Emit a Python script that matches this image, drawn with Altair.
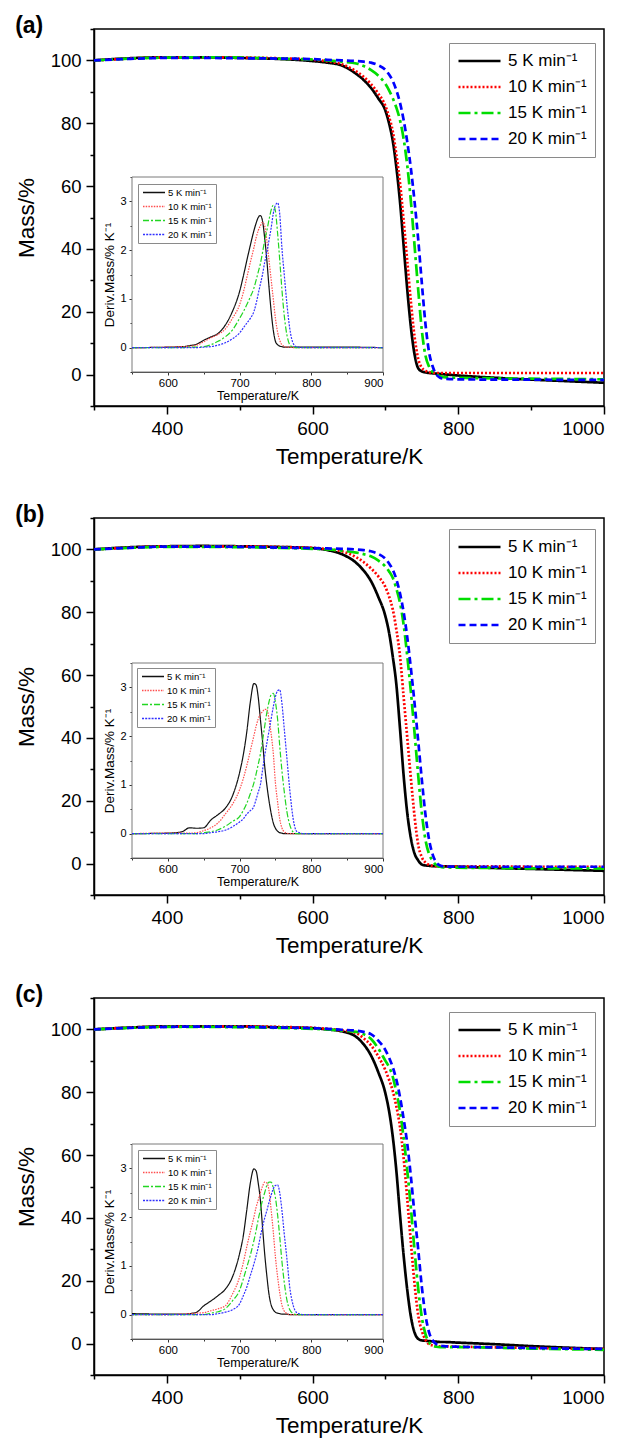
import altair as alt
import pandas as pd

SERIES = ["5 K min\u207b\u00b9", "10 K min\u207b\u00b9", "15 K min\u207b\u00b9", "20 K min\u207b\u00b9"]
COLORS_MAIN = ["#000000", "#ff0000", "#00dd00", "#0000ff"]
COLORS_INSET = ["#111111", "#ff4d4d", "#22d622", "#3030ff"]
DASH_MAIN = [[1, 0], [2, 2], [12, 4, 3, 4], [7, 4]]
DASH_INSET = [[1, 0], [1.5, 1.2], [6, 2, 2, 2], [2, 1.2]]

# main TGA curves (mass %, vs temperature K)
T_MAIN = [300, 350, 400, 450, 500, 550, 600, 620, 640, 660, 670, 680, 690, 700, 705, 710, 715, 720,
          725, 730, 735, 740, 745, 750, 755, 760, 765, 770, 775, 780, 800, 850, 900, 950, 1000]

A_MAIN_5 = [100, 100.7, 101, 101, 100.8, 100.5, 99.8, 99.3, 98.4, 95.7, 93.8, 91.3, 88, 84, 80, 74.5, 66, 55,
            41, 27, 15, 6.4, 2, 1.0, 0.7, 0.5, 0.4, 0.3, 0.2, 0.1, -0.3, -1.0, -1.6, -2.1, -2.6]
A_MAIN_10 = [100, 100.6, 101, 101, 100.9, 100.7, 100.2, 99.7, 98.8, 96.5, 94.8, 92.5, 89.5, 85.5, 82, 77.5, 70, 61,
             49, 36, 23, 12, 5, 2.2, 1.2, 0.8, 0.6, 0.5, 0.5, 0.5, 0.5, 0.5, 0.5, 0.5, 0.5]
A_MAIN_15 = [100, 100.6, 100.9, 101, 100.9, 100.6, 100.3, 100, 99.6, 99, 98.2, 97, 95.2, 92.5, 90.5, 88, 85, 81,
             75, 66.5, 55, 41, 27, 14, 6, 2.5, 0.8, 0, -0.5, -0.8, -1.0, -1.2, -1.3, -1.4, -1.5]
A_MAIN_20 = [100, 100.5, 100.8, 100.8, 100.7, 100.6, 100.4, 100.2, 100, 99.8, 99.6, 99.3, 98.5, 97, 95.5, 93.5, 90.5, 86.5,
             81, 74, 65.5, 55, 43, 29, 16, 7, 2.5, 0, -1.0, -1.3, -1.5, -1.6, -1.6, -1.7, -1.7]

B_MAIN_5 = [100, 100.7, 101, 101.1, 101, 100.8, 100.4, 99.8, 98.5, 95.7, 93.3, 90, 85, 78.7, 73.5, 66, 57, 43,
            28, 16, 8, 3.2, 1, -0.3, -0.6, -0.7, -0.8, -0.8, -0.9, -0.9, -1.0, -1.4, -1.7, -2.0, -2.3]
B_MAIN_10 = [100, 100.6, 101, 101, 101, 100.8, 100.5, 100.1, 99.4, 97.5, 96, 94, 91.5, 88, 85, 81, 74.5, 66,
             53, 40, 27, 15, 6, 2, 0.3, -0.4, -0.7, -0.8, -0.8, -0.9, -0.9, -0.9, -1.0, -1.0, -1.0]
B_MAIN_15 = [100, 100.5, 100.8, 100.8, 100.7, 100.5, 100.2, 100, 99.6, 99, 98.5, 97.8, 96.5, 94.5, 93, 91, 87.5, 83,
             76, 66, 54.5, 41.5, 28, 16, 7.5, 3, 0.8, -0.5, -1.0, -1.2, -1.3, -1.4, -1.5, -1.5, -1.6]
B_MAIN_20 = [100, 100.5, 100.9, 100.9, 100.8, 100.6, 100.4, 100.3, 100.2, 100, 99.8, 99.4, 98.6, 97, 95.5, 93.6, 90.5, 86,
             80, 72, 62, 51, 39, 26.6, 15.5, 7.5, 2.8, 0.3, -0.6, -0.9, -1.0, -1.0, -1.0, -1.0, -1.0]

C_MAIN_5 = [100, 100.6, 101, 101, 101, 100.7, 100.4, 100, 99.4, 97.6, 95.3, 91.8, 86.5, 79.6, 74, 66, 55, 41,
            28, 17, 8.5, 3.5, 1.5, 1, 0.9, 0.8, 0.7, 0.6, 0.5, 0.5, 0.3, -0.2, -0.8, -1.3, -1.7]
C_MAIN_10 = [100, 100.6, 100.9, 101, 101, 100.8, 100.5, 100.2, 99.7, 98.8, 97.2, 95, 91.5, 87, 84, 80.5, 75.5, 69,
             59, 46, 32, 19, 9, 4, 1.2, -0.2, -0.6, -0.8, -0.9, -0.9, -1.0, -1.2, -1.4, -1.6, -1.7]
C_MAIN_15 = [100, 100.5, 100.8, 100.8, 100.7, 100.5, 100.2, 100, 99.6, 99.2, 98.5, 97, 94, 90, 88, 85, 80, 74,
             65.5, 55, 43, 29.6, 17.5, 8.3, 3, 0.3, -0.7, -1.0, -1.1, -1.1, -1.1, -1.3, -1.6, -1.8, -2.0]
C_MAIN_20 = [100, 100.5, 100.8, 100.9, 100.8, 100.6, 100.4, 100.2, 99.9, 99.6, 99.2, 98.5, 96.5, 93.4, 91, 88, 84, 78.5,
             71.5, 63.6, 53, 41, 30, 18, 9, 3.5, 1, -0.2, -0.6, -0.8, -1.0, -1.2, -1.4, -1.6, -1.7]

# inset DTG curves (%/K vs temperature K)
T_INSET = [550, 600, 620, 630, 640, 650, 660, 670, 680, 690,
           700, 705, 710, 715, 720, 723, 726, 729, 732, 735,
           738, 741, 744, 747, 750, 753, 756, 759, 762, 766,
           770, 775, 780, 790, 800, 850, 900]

A_INS_5 = [0, 0.01, 0.02, 0.04, 0.07, 0.15, 0.22, 0.29, 0.46, 0.74,
           1.15, 1.45, 1.78, 2.1, 2.4, 2.55, 2.67, 2.71, 2.6, 2.25,
           1.8, 1.25, 0.75, 0.36, 0.13, 0.06, 0.03, 0.02, 0.01, 0.01,
           0.01, 0.01, 0.01, 0.01, 0.01, 0.01, 0]
A_INS_10 = [0, 0.01, 0.02, 0.03, 0.05, 0.12, 0.2, 0.27, 0.38, 0.6,
            0.88, 1.12, 1.43, 1.75, 2.05, 2.25, 2.4, 2.5, 2.57, 2.5,
            2.2, 1.8, 1.4, 1.0, 0.6, 0.32, 0.15, 0.06, 0.03, 0.01,
            0.01, 0, 0, 0, 0, 0, 0]
A_INS_15 = [0, 0, 0, 0.01, 0.01, 0.02, 0.06, 0.13, 0.22, 0.36,
            0.6, 0.73, 0.88, 1.04, 1.22, 1.38, 1.55, 1.72, 1.95, 2.2,
            2.4, 2.62, 2.82, 2.92, 2.8, 2.35, 1.8, 1.2, 0.7, 0.26,
            0.06, 0.01, 0, 0, 0, 0, 0]
A_INS_20 = [0, 0, 0, 0, 0, 0.01, 0.02, 0.05, 0.1, 0.18,
            0.3, 0.4, 0.5, 0.6, 0.74, 0.9, 1.1, 1.3, 1.5, 1.75,
            1.95, 2.2, 2.45, 2.75, 2.92, 2.97, 2.74, 2.05, 1.55, 0.9,
            0.39, 0.08, 0.01, 0, 0, 0, 0]

B_INS_5 = [0, 0.01, 0.04, 0.12, 0.11, 0.12, 0.28, 0.39, 0.52, 0.77,
           1.25, 1.6, 2.08, 2.7, 3.08, 3.05, 2.8, 2.35, 1.9, 1.39,
           1.0, 0.68, 0.42, 0.22, 0.11, 0.05, 0.02, 0.01, 0, 0,
           0, 0, 0, 0, 0, 0, 0]
B_INS_10 = [0, 0.01, 0.01, 0.01, 0.02, 0.06, 0.12, 0.22, 0.4, 0.6,
            0.9, 1.12, 1.39, 1.7, 2.01, 2.2, 2.35, 2.45, 2.5, 2.55,
            2.55, 2.35, 2.05, 1.65, 1.04, 0.65, 0.3, 0.12, 0.04, 0.01,
            0, 0, 0, 0, 0, 0, 0]
B_INS_15 = [0, 0, 0, 0, 0, 0.02, 0.04, 0.08, 0.15, 0.25,
            0.35, 0.47, 0.62, 0.82, 1.04, 1.22, 1.42, 1.63, 1.9, 2.2,
            2.48, 2.7, 2.85, 2.88, 2.7, 2.35, 1.8, 1.3, 0.9, 0.45,
            0.18, 0.03, 0, 0, 0, 0, 0]
B_INS_20 = [0, 0, 0, 0, 0, 0, 0.02, 0.04, 0.07, 0.14,
            0.24, 0.3, 0.4, 0.47, 0.56, 0.7, 0.85, 1.0, 1.3, 1.6,
            1.85, 2.1, 2.35, 2.6, 2.81, 2.93, 2.95, 2.68, 2.2, 1.55,
            0.9, 0.28, 0.04, 0, 0, 0, 0]

C_INS_5 = [0.02, 0.01, 0.01, 0.02, 0.05, 0.18, 0.28, 0.39, 0.52, 0.77,
           1.25, 1.6, 2.14, 2.7, 2.99, 2.95, 2.7, 2.35, 1.8, 1.25,
           0.8, 0.42, 0.2, 0.1, 0.05, 0.03, 0.02, 0.01, 0.01, 0.01,
           0, 0, 0, 0, 0, 0, 0]
C_INS_10 = [0, 0, 0.01, 0.02, 0.03, 0.04, 0.08, 0.12, 0.18, 0.42,
            0.77, 1.05, 1.39, 1.7, 2.0, 2.2, 2.35, 2.5, 2.63, 2.72,
            2.7, 2.55, 2.15, 1.7, 1.18, 0.78, 0.45, 0.2, 0.08, 0.02,
            0, 0, 0, 0, 0, 0, 0]
C_INS_15 = [0, 0, 0, 0, 0, 0, 0.03, 0.06, 0.12, 0.28,
            0.5, 0.72, 0.97, 1.22, 1.52, 1.72, 1.95, 2.15, 2.35, 2.5,
            2.65, 2.72, 2.72, 2.6, 2.4, 2.05, 1.6, 1.1, 0.7, 0.3,
            0.1, 0.02, 0, 0, 0, 0, 0]
C_INS_20 = [0, 0, 0, 0, 0, 0, 0, 0.02, 0.05, 0.1,
            0.22, 0.38, 0.56, 0.8, 1.04, 1.2, 1.38, 1.6, 1.8, 1.98,
            2.13, 2.3, 2.45, 2.58, 2.65, 2.66, 2.5, 2.15, 1.7, 1.15,
            0.56, 0.18, 0.04, 0, 0, 0, 0]

MAIN_X_TICKS = [400, 600, 800, 1000]
MAIN_X_MINOR = [300, 500, 700, 900]
MAIN_Y_TICKS = [0, 20, 40, 60, 80, 100]
MAIN_Y_MINOR = [-10, 10, 30, 50, 70, 90, 110]
INS_X_TICKS = [600, 700, 800, 900]
INS_X_MINOR = [550, 650, 750, 850]
INS_Y_TICKS = [0, 1, 2, 3]
INS_Y_MINOR = [-0.5, 0.5, 1.5, 2.5, 3.5]
INS_BOX = {"x": [550], "x2": [900], "y": [-0.5], "y2": [3.5]}

W, H = 510, 377
FONT = "Liberation Sans"


def long_df(temps, curves):
    rows = []
    for s, vals in zip(SERIES, curves):
        for t, v in zip(temps, vals):
            rows.append({"T": t, "v": v, "series": s})
    return pd.DataFrame(rows)


def panel(tag, main_curves, ins_curves, ins_top, ins_bottom, leg_y, ileg_x, ileg_y):
    mdf = long_df(T_MAIN, main_curves)
    idf = long_df(T_INSET, ins_curves)
    xs_m = alt.Scale(domain=[300, 1000], nice=False, zero=False)
    ys_m = alt.Scale(domain=[-10, 110], nice=False, zero=False)
    xs_i = alt.Scale(domain=[550, 900], range=[38, 289], nice=False, zero=False)
    ys_i = alt.Scale(domain=[-0.5, 3.5], range=[ins_bottom, ins_top], nice=False, zero=False)

    main_leg = alt.Legend(orient="none", legendX=355, legendY=leg_y, title=None,
                          symbolType="stroke", symbolSize=1764, symbolStrokeWidth=2.6,
                          clipHeight=20, rowPadding=6, padding=8, labelFontSize=17,
                          labelOffset=6, labelFont=FONT, strokeColor="#8a8a8a",
                          fillColor="white", labelColor="black")
    ins_leg = alt.Legend(orient="none", legendX=ileg_x, legendY=ileg_y, title=None,
                         symbolType="stroke", symbolSize=484, symbolStrokeWidth=1.3,
                         clipHeight=9, rowPadding=4, padding=4, labelFontSize=9.5,
                         labelOffset=2, labelFont=FONT, strokeColor="#8a8a8a",
                         fillColor="white", labelColor="black")

    main = alt.Chart(mdf).mark_line(strokeWidth=2.7, interpolate="monotone").encode(
        x=alt.X("T:Q", scale=xs_m, axis=alt.Axis(
            orient="bottom", values=MAIN_X_TICKS, format="d", tickSize=8, tickWidth=1.5, domainWidth=1.5,
            labelFontSize=19, labelPadding=5, title="Temperature/K", titleFontSize=22.5,
            titlePadding=7, grid=False)),
        y=alt.Y("v:Q", scale=ys_m, axis=alt.Axis(
            orient="left", values=MAIN_Y_TICKS, format="d", tickSize=8, tickWidth=1.5, domainWidth=1.5,
            labelFontSize=18.5, labelPadding=5, title="Mass/%", titleFontSize=22.5,
            titlePadding=12, grid=False)),
        color=alt.Color("series:N", scale=alt.Scale(domain=SERIES, range=COLORS_MAIN), legend=main_leg),
        strokeDash=alt.StrokeDash("series:N", scale=alt.Scale(domain=SERIES, range=DASH_MAIN), legend=main_leg),
    )
    main_minor = alt.Chart(mdf).mark_point(opacity=0).encode(
        x=alt.X("T:Q", scale=xs_m, axis=alt.Axis(
            orient="bottom", values=MAIN_X_MINOR, tickSize=4, tickWidth=1.5, labels=False,
            domain=False, title=None, grid=False)),
        y=alt.Y("v:Q", scale=ys_m, axis=alt.Axis(
            orient="left", values=MAIN_Y_MINOR, tickSize=4, tickWidth=1.5, labels=False,
            domain=False, title=None, grid=False)),
    )
    box = alt.Chart(pd.DataFrame(INS_BOX)).mark_rect(fill="white", stroke="#7a7a7a", strokeWidth=1).encode(
        x=alt.X("x:Q", scale=xs_i, axis=None),
        x2="x2:Q",
        y=alt.Y("y:Q", scale=ys_i, axis=None),
        y2="y2:Q",
    )
    inset = alt.Chart(idf).mark_line(strokeWidth=1.2, interpolate="monotone").encode(
        x=alt.X("T:Q", scale=xs_i, axis=alt.Axis(
            orient="bottom", offset=-(H - ins_bottom), values=INS_X_TICKS, tickSize=3,
            labelFontSize=11.5, labelPadding=2, title="Temperature/K", titleFontSize=12.5,
            titlePadding=1, grid=False, domainColor="#333333", tickColor="#333333")),
        y=alt.Y("v:Q", scale=ys_i, axis=alt.Axis(
            orient="left", offset=-38, values=INS_Y_TICKS, tickSize=3,
            labelFontSize=11, labelPadding=3, title="Deriv.Mass/% K\u207b\u00b9", titleFontSize=13.5,
            titlePadding=3, grid=False, domainColor="#333333", tickColor="#333333")),
        color=alt.Color("series:N", scale=alt.Scale(domain=SERIES, range=COLORS_INSET), legend=ins_leg),
        strokeDash=alt.StrokeDash("series:N", scale=alt.Scale(domain=SERIES, range=DASH_INSET), legend=ins_leg),
    )
    inset_minor = alt.Chart(idf).mark_point(opacity=0).encode(
        x=alt.X("T:Q", scale=xs_i, axis=alt.Axis(
            orient="bottom", offset=-(H - ins_bottom), values=INS_X_MINOR, tickSize=2,
            labels=False, domain=False, title=None, grid=False, tickColor="#333333")),
        y=alt.Y("v:Q", scale=ys_i, axis=alt.Axis(
            orient="left", offset=-38, values=INS_Y_MINOR, tickSize=2,
            labels=False, domain=False, title=None, grid=False, tickColor="#333333")),
    )
    return alt.layer(main, main_minor, box, inset, inset_minor).resolve_scale(
        x="independent", y="independent", color="independent", strokeDash="independent"
    ).resolve_legend(color="independent", strokeDash="independent").properties(
        width=W, height=H,
        title=alt.TitleParams(tag, anchor="start", frame="bounds", fontSize=23,
                              fontWeight="bold", font=FONT, offset=-10, color="black"),
    )


pa = panel("(a)", [A_MAIN_5, A_MAIN_10, A_MAIN_15, A_MAIN_20],
           [A_INS_5, A_INS_10, A_INS_15, A_INS_20], 148, 343, 14, 44, 155)
pb = panel("(b)", [B_MAIN_5, B_MAIN_10, B_MAIN_15, B_MAIN_20],
           [B_INS_5, B_INS_10, B_INS_15, B_INS_20], 145, 340, 11, 43, 150)
pc = panel("(c)", [C_MAIN_5, C_MAIN_10, C_MAIN_15, C_MAIN_20],
           [C_INS_5, C_INS_10, C_INS_15, C_INS_20], 146, 341, 14, 44, 152)

top_pair = alt.vconcat(pa, pb, spacing=34).resolve_scale(
    color="independent", strokeDash="independent"
).resolve_legend(color="independent", strokeDash="independent")

chart = alt.vconcat(top_pair, pc, spacing=25).resolve_scale(
    color="independent", strokeDash="independent"
).resolve_legend(color="independent", strokeDash="independent").properties(
    padding={"left": 6, "top": 6, "right": 0, "bottom": 0}
).configure(font=FONT).configure_view(
    stroke="black", strokeWidth=1.5
).configure_axis(
    labelColor="black", titleColor="black", domainColor="black", tickColor="black",
    labelFont=FONT, titleFont=FONT, titleFontWeight="normal"
)

chart.save("out.html", embed_options={"renderer": "svg", "actions": False})
